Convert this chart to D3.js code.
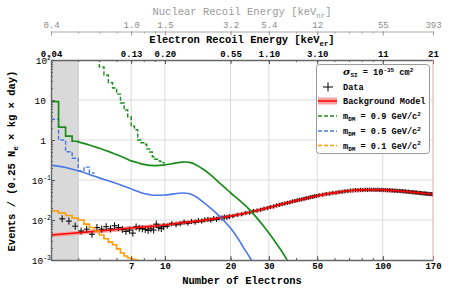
<!DOCTYPE html>
<html><head><meta charset="utf-8">
<script src="https://cdn.jsdelivr.net/npm/d3@7"></script>
<style>
body{margin:0;background:#fff}
svg text{font-family:"Liberation Mono","DejaVu Sans Mono",monospace}
</style>
</head><body>
<svg id="c" width="450" height="294"></svg>
<script>
// ---------------- data ----------------
const xDomain = [3, 170];
const yDomain = [1e-3, 100];
const shadedRange = [3, 4];
const xMajorTicks = [3, 7, 10, 20, 30, 50, 100, 170];
const xBottomLabels = ["", "7", "10", "20", "30", "50", "100", "170"];
const xElectronLabels = ["0.04", "0.13", "0.20", "0.55", "1.10", "3.10", "11", "21"];
const xNuclearLabels = ["0.4", "1.0", "1.5", "3.2", "5.4", "12", "55", "393"];
const xGridTicks = [7, 10, 20, 30, 50, 100];
const yMajorTicks = [1e-3, 1e-2, 1e-1, 1, 10, 100];
const yTickBase = ["10", "10", "10", "1", "10", "10"];
const yTickExp = ["-3", "-2", "-1", "", "", "2"];
const binWidth = 0.25;

// background model
const bgN = [3,4,5,6,7,8,10,12,15,17,20,25,30,35,40,45,50,60,70,80,90,100,120,140,170];
const bgV = [0.0042,0.0048,0.0053,0.0058,0.0063,0.0067,0.0075,0.0085,0.0098,0.0108,0.0125,0.016,0.0205,0.0255,0.0305,0.0355,0.0405,0.048,0.054,0.0565,0.057,0.0565,0.053,0.049,0.044];

// m = 0.9 GeV (green) solid: steps then smooth
const greenStepStart = 3;
const greenSteps = [9.1, 2.1, 1.25, 0.93];
const greenN = [4,4.5,5,5.5,6,6.5,7,7.5,8,8.5,9,10,11,12,12.5,13,14,15,16,17,18,19,20,22,24,26,28,30,32,34,36,37];
const greenV = [0.90,0.75,0.62,0.52,0.43,0.36,0.30,0.27,0.245,0.232,0.23,0.238,0.26,0.28,0.282,0.275,0.235,0.185,0.142,0.107,0.08,0.062,0.048,0.031,0.020,0.0125,0.0077,0.0047,0.0029,0.0018,0.0011,0.00085];
// green dashed
const greenDashStart = 4.75;
const greenDashSteps = [120,67,42,27,20,14,8.4,5.6,3.8,2.2,1.8,1.0,0.85,0.78,0.6,0.5,0.38,0.33,0.30,0.29,0.27];

// m = 0.5 GeV (blue) solid
const blueN = [3,3.5,4,4.5,5,5.5,6,6.5,7,7.5,8,8.5,9,10,11,12,13,14,15,16,17,18,19,20,21,22,23,24,25,26];
const blueV = [0.235,0.205,0.17,0.138,0.113,0.096,0.082,0.07,0.06,0.052,0.046,0.043,0.0415,0.042,0.045,0.0475,0.0455,0.037,0.028,0.021,0.0158,0.0118,0.0087,0.0063,0.0044,0.003,0.002,0.0014,0.00098,0.0007];
// blue dashed
const blueDashStart = 3;
const blueDashSteps = [3.3, 1.0, 0.51, 0.35, 0.17, 0.21, 0.15];

// m = 0.1 GeV (orange)
const orangeStart = 3;
const orangeSteps = [0.0168,0.0150,0.0130,0.0112,0.0100,0.0079,0.0065,0.0053,0.0042,0.0034,0.0028,0.0024,0.0019,0.0015,0.00126,0.00112,0.00106,0.001,0.0008];

// data
const dataN = [3.375,3.625,3.875,4.125,4.375,4.625,4.875,5.125,5.375,5.625,5.875,6.125,6.375,6.625,6.875,7.125,7.375,7.625,7.875,8.125,8.375,8.625,8.875,9.125,9.375,9.625,9.875,
10.25,10.75,11.25,11.75,12.25,12.75,13.25,13.75,14.25,14.75,15.25,15.75,16.25,16.75,17.25,17.75,18.25,18.75,19.25,19.75,
20.5,21.5,22.5,23.5,24.5,25.5,26.5,27.5,28.5,29.5,30.5,31.5,32.5,33.5,34.5,35.5,36.5,37.5,38.5,39.5,40.5,41.5,42.5,43.5,44.5,45.5,46.5,47.5,48.5,49.5,
51,53,55,57,59,61,63,65,67,69,71,73,75,77,79,81,83,85,87,89,91,93,95,97,99,101,103,105,107,109,111,113,115,117,119,121,123,125,127,129,131,133,135,137,139,141,143,145,147,149,151,153,155,157,159,161,163,165,167,169];
const dataV = [0.0107,0.0094,0.0070,0.0053,0.0059,0.0044,0.0065,0.0059,0.0068,0.0060,0.0072,0.0065,0.0058,0.0052,0.0056,0.0047,0.0067,0.0062,0.0060,0.0058,0.0055,0.0060,0.0056,0.0079,0.0064,0.0061,0.0068,
0.0070,0.0081,0.0076,0.0080,0.0089,0.0083,0.0092,0.0088,0.0097,0.0093,0.0101,0.0104,0.0099,0.0109,0.0104,0.0113,0.0112,0.0118,0.0116,0.0122,
0.0124,0.0135,0.0138,0.0150,0.0153,0.0168,0.0172,0.0180,0.0192,0.0198,0.0212,0.0218,0.0232,0.0238,0.0252,0.0258,0.0268,0.0276,0.0292,0.0298,0.0312,0.0318,0.0330,0.0338,0.0352,0.0358,0.0372,0.0376,0.0392,0.0398,
0.0418,0.0428,0.0447,0.0455,0.0478,0.0482,0.0500,0.0506,0.0522,0.0530,0.0545,0.0548,0.0560,0.0556,0.0570,0.0562,0.0575,0.0568,0.0578,0.0568,0.0577,0.0566,0.0574,0.0562,0.0570,0.0560,0.0566,0.0552,0.0560,0.0546,0.0552,0.0538,0.0545,0.0530,0.0538,0.0524,0.0530,0.0516,0.0522,0.0508,0.0514,0.0500,0.0504,0.0492,0.0496,0.0484,0.0488,0.0476,0.0480,0.0468,0.0472,0.0460,0.0466,0.0454,0.0458,0.0448,0.0452,0.0442,0.0446,0.0438];

// ---------------- drawing ----------------
const X0 = 51, X1 = 433, Y0 = 60, Y1 = 260;
const svg = d3.select("#c");
const x = d3.scaleLog().domain(xDomain).range([X0, X1]);
const y = d3.scaleLog().domain(yDomain).range([Y1, Y0]);
const FONT = '"Liberation Mono","DejaVu Sans Mono",monospace';
const DASH = "4,2";

svg.append("defs").append("clipPath").attr("id", "clip")
  .append("rect").attr("x", X0).attr("y", Y0).attr("width", X1 - X0).attr("height", Y1 - Y0);

// shaded region
svg.append("rect").attr("x", x(shadedRange[0])).attr("y", Y0)
  .attr("width", x(shadedRange[1]) - x(shadedRange[0])).attr("height", Y1 - Y0)
  .attr("fill", "#d9d9d9");
svg.append("line").attr("x1", x(shadedRange[1])).attr("x2", x(shadedRange[1]))
  .attr("y1", Y0).attr("y2", Y1).attr("stroke", "#cacaca").attr("stroke-width", 1);

// grid
const grid = svg.append("g").attr("stroke", "#dadada").attr("stroke-width", 1);
yMajorTicks.filter(v => v > yDomain[0] && v < yDomain[1]).forEach(v => {
  grid.append("line").attr("x1", X0).attr("x2", X1).attr("y1", y(v)).attr("y2", y(v));
});
xGridTicks.forEach(v => {
  grid.append("line").attr("x1", x(v)).attr("x2", x(v)).attr("y1", Y0).attr("y2", Y1);
});

// helpers
function stepPoints(start, vals) {
  const pts = [];
  vals.forEach((v, i) => {
    pts.push([start + i * binWidth, v]);
    pts.push([start + (i + 1) * binWidth, v]);
  });
  return pts;
}
const lineGen = d3.line().x(d => x(d[0])).y(d => y(d[1]));
const smoothGen = d3.line().x(d => x(d[0])).y(d => y(d[1])).curve(d3.curveMonotoneX);
const zip = (a, b) => a.map((v, i) => [v, b[i]]);

const plot = svg.append("g").attr("clip-path", "url(#clip)");

// background band
const bgPts = zip(bgN, bgV);
plot.append("path")
  .attr("d", d3.area().x(d => x(d[0])).y0(d => y(d[1] * 0.88)).y1(d => y(d[1] * 1.12)).curve(d3.curveMonotoneX)(bgPts))
  .attr("fill", "#f6a3a3");

// data
const dataG = plot.append("g").attr("stroke", "#000").attr("stroke-width", 1);
dataN.forEach((n, i) => {
  const cx = x(n), cy = y(dataV[i]);
  const hw = n < 10 ? 3 : (n < 20 ? 2.5 : 2);
  const hv = n < 10 ? 3.5 : (n < 20 ? 2.5 : 2);
  dataG.append("line").attr("x1", cx - hw).attr("x2", cx + hw).attr("y1", cy).attr("y2", cy);
  dataG.append("line").attr("x1", cx).attr("x2", cx).attr("y1", cy - hv).attr("y2", cy + hv);
});

// background line
plot.append("path").attr("d", smoothGen(bgPts)).attr("fill", "none")
  .attr("stroke", "#ff0000").attr("stroke-width", 1.6);

// blue
const blueCol = "#4a78e6";
plot.append("path").attr("d", lineGen(stepPoints(blueDashStart, blueDashSteps)))
  .attr("fill", "none").attr("stroke", blueCol).attr("stroke-width", 1.4).attr("stroke-dasharray", DASH);
plot.append("path").attr("d", smoothGen(zip(blueN, blueV)))
  .attr("fill", "none").attr("stroke", blueCol).attr("stroke-width", 1.6);

// green
const greenCol = "#1a8c1a";
plot.append("path").attr("d", lineGen(stepPoints(greenDashStart, greenDashSteps)))
  .attr("fill", "none").attr("stroke", greenCol).attr("stroke-width", 1.4).attr("stroke-dasharray", DASH);
const gPts = stepPoints(greenStepStart, greenSteps);
plot.append("path").attr("d", lineGen(gPts) + smoothGen(zip(greenN, greenV)).replace(/^M/, "L"))
  .attr("fill", "none").attr("stroke", greenCol).attr("stroke-width", 1.7);

// orange
plot.append("path").attr("d", lineGen(stepPoints(orangeStart, orangeSteps)))
  .attr("fill", "none").attr("stroke", "#ff9a00").attr("stroke-width", 1.6);

// ---------------- axes ----------------
function styleAxis(g, color, weight, size) {
  g.select(".domain").attr("stroke", "#666").attr("stroke-width", 1.4);
  g.selectAll(".tick line").attr("stroke", "#555");
  g.selectAll("text").attr("font-family", FONT).attr("font-size", size)
    .attr("font-weight", weight).attr("fill", color);
}

// bottom
const bottomMinor = svg.append("g").attr("transform", `translate(0,${Y1})`)
  .call(d3.axisBottom(x).tickValues(x.ticks()).tickFormat("").tickSize(-2).tickSizeOuter(0));
bottomMinor.select(".domain").remove();
bottomMinor.selectAll(".tick line").attr("stroke", "#555");
const bottom = svg.append("g").attr("transform", `translate(0,${Y1})`)
  .call(d3.axisBottom(x).tickValues(xMajorTicks).tickFormat((d, i) => xBottomLabels[i]).tickSize(-4).tickSizeOuter(0).tickPadding(3));
styleAxis(bottom, "#000", "bold", 9);

// top electron
const topMinor = svg.append("g").attr("transform", `translate(0,${Y0})`)
  .call(d3.axisTop(x).tickValues(x.ticks()).tickFormat("").tickSize(-2).tickSizeOuter(0));
topMinor.select(".domain").remove();
topMinor.selectAll(".tick line").attr("stroke", "#555");
const topAx = svg.append("g").attr("transform", `translate(0,${Y0})`)
  .call(d3.axisTop(x).tickValues(xMajorTicks).tickFormat((d, i) => xElectronLabels[i]).tickSize(-4).tickSizeOuter(0).tickPadding(3.5));
styleAxis(topAx, "#000", "bold", 9);

// nuclear axis
const NY = 31.5;
const nucMinor = svg.append("g").attr("transform", `translate(0,${NY})`)
  .call(d3.axisTop(x).tickValues(x.ticks()).tickFormat("").tickSize(-2).tickSizeOuter(0));
nucMinor.select(".domain").remove();
nucMinor.selectAll(".tick line").attr("stroke", "#999");
const nucAx = svg.append("g").attr("transform", `translate(0,${NY})`)
  .call(d3.axisTop(x).tickValues(xMajorTicks).tickFormat((d, i) => xNuclearLabels[i]).tickSize(-4).tickSizeOuter(0).tickPadding(3.5));
nucAx.select(".domain").attr("stroke", "#aaa").attr("stroke-width", 1);
nucAx.selectAll(".tick line").attr("stroke", "#999");
nucAx.selectAll("text").attr("font-family", FONT).attr("font-size", 9).attr("fill", "#8a8a8a");

// left axis
const leftMinor = svg.append("g").attr("transform", `translate(${X0},0)`)
  .call(d3.axisLeft(y).tickValues(y.ticks().filter(v => !yMajorTicks.includes(v))).tickFormat("").tickSize(-2).tickSizeOuter(0));
leftMinor.select(".domain").remove();
leftMinor.selectAll(".tick line").attr("stroke", "#555");
const left = svg.append("g").attr("transform", `translate(${X0},0)`)
  .call(d3.axisLeft(y).tickValues(yMajorTicks).tickSize(-4).tickSizeOuter(0).tickPadding(3));
styleAxis(left, "#000", "normal", 9.5);
left.selectAll(".tick text").each(function(d, i) {
  const t = d3.select(this).text("");
  t.append("tspan").text(yTickBase[i]);
  if (yTickExp[i]) {
    t.append("tspan").attr("dy", -4).attr("font-size", 6.5).text(yTickExp[i]);
    t.attr("x", 0);
  } else {
    t.attr("x", -5);
  }
});

// right border
svg.append("line").attr("x1", X1).attr("x2", X1).attr("y1", Y0).attr("y2", Y1)
  .attr("stroke", "#e4a8a8").attr("stroke-width", 1);

// ---------------- titles ----------------
function subText(g, parts, attrs) {
  const t = g.append("text");
  Object.entries(attrs).forEach(([k, v]) => t.attr(k, v));
  parts.forEach(p => {
    const s = t.append("tspan").text(p.t);
    if (p.sub) s.attr("dy", 2.5).attr("font-size", "0.7em");
    if (p.sup) s.attr("dy", -4).attr("font-size", "0.7em");
    if (p.back) s.attr("dy", p.back);
  });
  return t;
}
subText(svg, [{t:"Nuclear Recoil Energy [keV"},{t:"nr",sub:1},{t:"]",back:-2.5}],
  {x: 242, y: 15, "text-anchor": "middle", "font-size": 10.5, fill: "#999", "font-family": FONT});
subText(svg, [{t:"Electron Recoil Energy [keV"},{t:"er",sub:1},{t:"]",back:-2.5}],
  {x: 242, y: 43, "text-anchor": "middle", "font-size": 10.5, "font-weight": "bold", fill: "#000", "font-family": FONT});
svg.append("text").attr("x", 242).attr("y", 284).attr("text-anchor", "middle")
  .attr("font-size", 10.5).attr("font-weight", "bold").attr("font-family", FONT).text("Number of Electrons");
subText(svg, [{t:"Events / (0.25 N"},{t:"e",sub:1},{t:" × kg × day)",back:-2.5}],
  {x: 0, y: 0, "text-anchor": "middle", "font-size": 10.5, "font-weight": "bold", "font-family": FONT,
   transform: "translate(15,161) rotate(-90)"});

// ---------------- legend ----------------
const lg = svg.append("g");
lg.append("rect").attr("x", 316.5).attr("y", 64.5).attr("width", 113).attr("height", 89).attr("rx", 3)
  .attr("fill", "#fff").attr("stroke", "#999");
const LX = 343, SX0 = 318, SX1 = 337;
const lfs = 8.6;
const lt = lg.append("text").attr("x", LX).attr("y", 75).attr("font-size", lfs).attr("font-weight", "bold").attr("font-family", FONT);
lt.append("tspan").text("σ").attr("font-style", "italic").attr("font-family", "DejaVu Serif").attr("font-size", 10);
lt.append("tspan").text("SI").attr("dy", 2).attr("font-size", 6);
lt.append("tspan").text(" = 10").attr("dy", -2);
lt.append("tspan").text("-35").attr("dy", -3.5).attr("font-size", 6);
lt.append("tspan").text(" cm").attr("dy", 3.5);
lt.append("tspan").text("2").attr("dy", -3.5).attr("font-size", 6);

// data row
lg.append("line").attr("x1", 323).attr("x2", 333).attr("y1", 87).attr("y2", 87).attr("stroke", "#000");
lg.append("line").attr("x1", 328).attr("x2", 328).attr("y1", 82.5).attr("y2", 91.5).attr("stroke", "#000");
lg.append("text").attr("x", LX).attr("y", 90).attr("font-size", lfs).attr("font-weight", "bold").attr("font-family", FONT).text("Data");
// bg row
lg.append("rect").attr("x", SX0).attr("y", 97.5).attr("width", SX1 - SX0).attr("height", 7).attr("fill", "#f6a3a3");
lg.append("line").attr("x1", SX0).attr("x2", SX1).attr("y1", 101).attr("y2", 101).attr("stroke", "#ff0000").attr("stroke-width", 1.5);
lg.append("text").attr("x", LX).attr("y", 104).attr("font-size", lfs).attr("font-weight", "bold").attr("font-family", FONT).text("Background Model");

const massRows = [
  {m: "0.9", c: greenCol, yy: 116},
  {m: "0.5", c: blueCol, yy: 131},
  {m: "0.1", c: "#ff9a00", yy: 145.5}
];
massRows.forEach(r => {
  lg.append("line").attr("x1", SX0).attr("x2", SX1).attr("y1", r.yy).attr("y2", r.yy)
    .attr("stroke", r.c).attr("stroke-width", 1.4).attr("stroke-dasharray", DASH);
  const t = lg.append("text").attr("x", LX).attr("y", r.yy + 3).attr("font-size", lfs).attr("font-weight", "bold").attr("font-family", FONT);
  t.append("tspan").text("m");
  t.append("tspan").text("DM").attr("dy", 2).attr("font-size", 6);
  t.append("tspan").text(" = " + r.m + " GeV/c").attr("dy", -2);
  t.append("tspan").text("2").attr("dy", -3.5).attr("font-size", 6);
});
</script>
</body></html>
